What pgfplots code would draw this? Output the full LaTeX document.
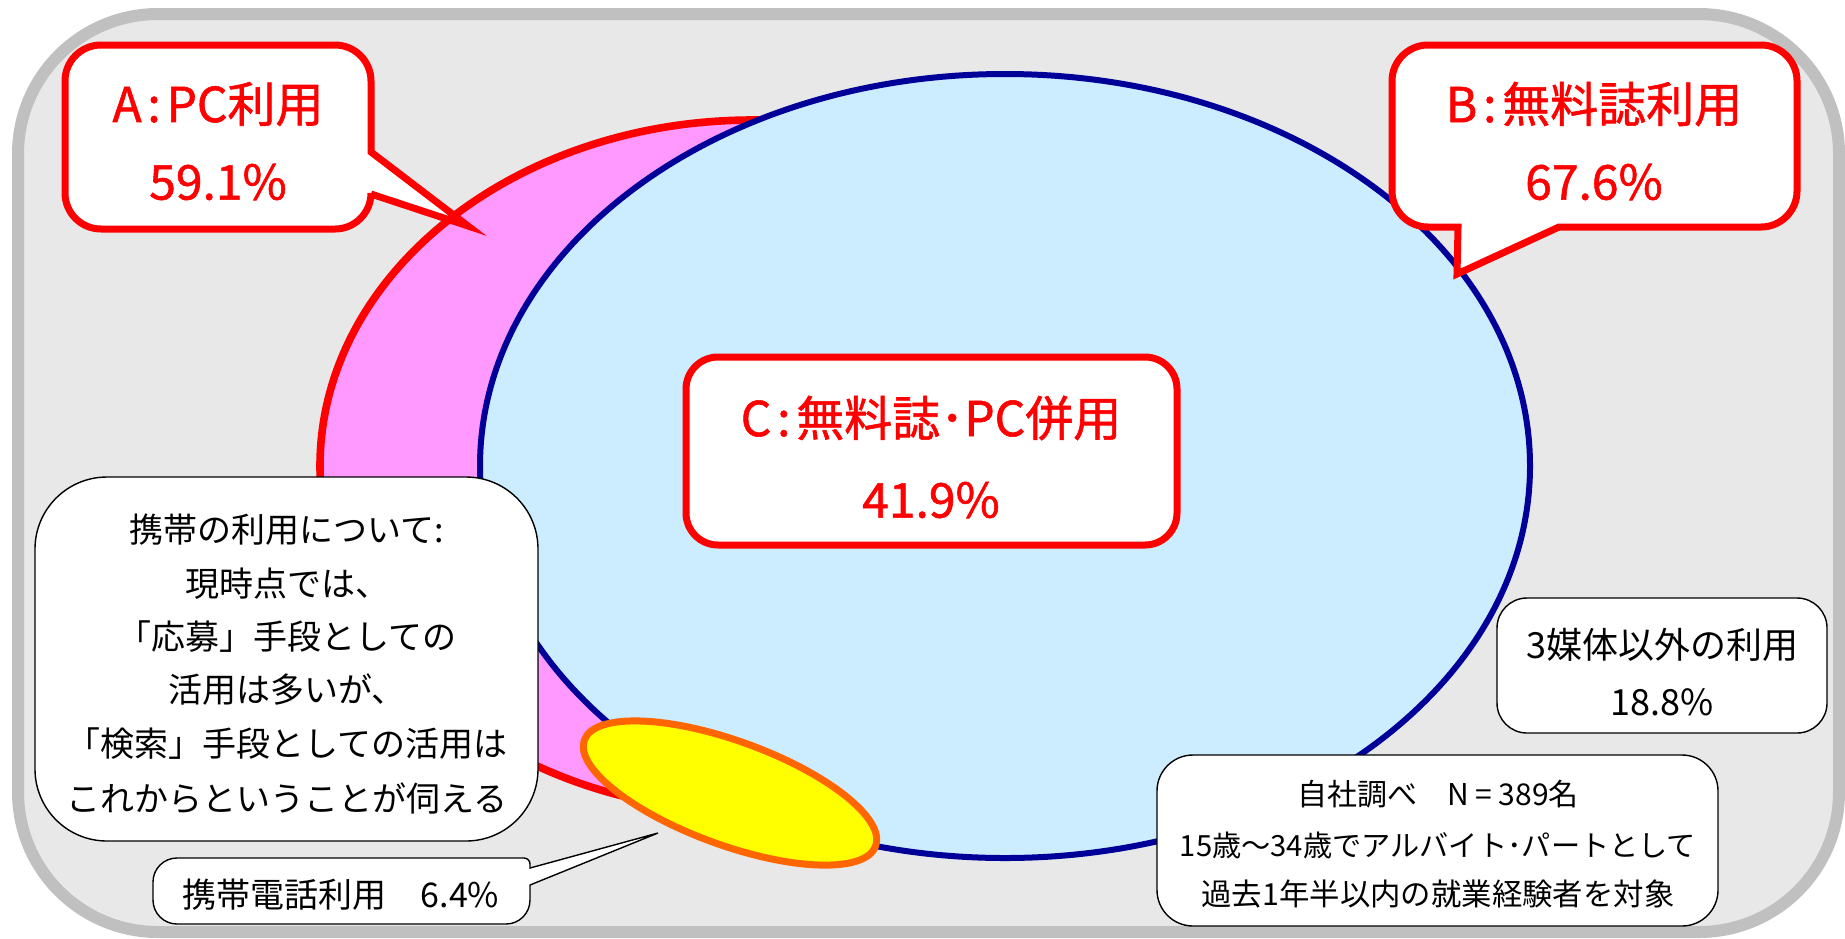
\documentclass[border=0pt]{standalone}
\usepackage{fontspec}
\setmainfont{Noto Sans CJK JP}
\newfontfamily\redf[FakeBold=1.2]{Noto Sans CJK JP}
\usepackage{pgfplots}
\pgfplotsset{compat=1.18}

\definecolor{frameg}{HTML}{C0C0C0}
\definecolor{bgg}{HTML}{E8E8E8}
\definecolor{pinkA}{HTML}{FF99FF}
\definecolor{blueB}{HTML}{CCECFF}
\definecolor{navyB}{HTML}{000099}
\definecolor{orangeP}{HTML}{FF6600}
\definecolor{yelC}{HTML}{FFFF00}
\newcommand{\fs}[1]{\fontsize{#1}{#1}\selectfont}
\newcommand{\cl}{\hspace{0.12em}:\hspace{0.12em}}

\begin{document}
\begin{tikzpicture}
\begin{axis}[
    scale only axis,
    width=922.5pt, height=469pt,
    xmin=0, xmax=1845, ymin=0, ymax=938,
    y dir=reverse,
    hide axis,
    clip=false
]
  \coordinate (bl) at (0,938);
  \coordinate (tr) at (1845,0);

  % frame
  \filldraw[draw=frameg, fill=bgg, line width=6pt, rounded corners=70pt]
    (18,14) rectangle (1839,932);

  % A, B and mobile sets
  \filldraw[fill=pinkA, draw=red, line width=3.8pt]
    (753,466) ellipse [x radius=216.5pt, y radius=173pt];
  \filldraw[fill=blueB, draw=navyB, line width=3pt]
    (1005,466) ellipse [x radius=262.5pt, y radius=196pt];
  \filldraw[fill=yelC, draw=orangeP, line width=3.5pt, rotate around={-20:(730,793)}]
    (730,793) ellipse [x radius=77.5pt, y radius=26pt];

  % callout A
  \filldraw[draw=red, fill=white, line width=3.5pt, rounded corners=18pt]
    (218,45) -- (371,45) [sharp corners] -- (371,152) -- (468,226) -- (371,194)
    [rounded corners=18pt] -- (371,229) -- (65,229) -- (65,45) -- cycle;
  \node[text=red, font=\fs{24pt}\redf] at (218,104) {A\cl PC利用};
  \node[text=red, font=\fs{24pt}\redf] at (218,182) {59.1\%};

  % callout B
  \filldraw[draw=red, fill=white, line width=3.5pt, rounded corners=18pt]
    (1600,45) -- (1797,45) -- (1797,227) [sharp corners] -- (1559,227) -- (1457,274) -- (1458,227)
    [rounded corners=18pt] -- (1392,227) -- (1392,45) -- cycle;
  \node[text=red, font=\fs{24pt}\redf] at (1594,104) {B\cl 無料誌利用};
  \node[text=red, font=\fs{24pt}\redf] at (1594,182) {67.6\%};

  % box C
  \filldraw[draw=red, fill=white, line width=3.5pt, rounded corners=16pt]
    (686,357) rectangle (1177,545);
  \node[text=red, font=\fs{24pt}\redf] at (931,418) {C\cl 無料誌･PC併用};
  \node[text=red, font=\fs{24pt}\redf] at (931,500) {41.9\%};

  % note on mobile use
  \filldraw[draw=black, fill=white, line width=0.7pt, rounded corners=36pt]
    (35,477) rectangle (538,841);
  \node[font=\fs{17pt}] at (287,530) {携帯の利用について:};
  \node[font=\fs{17pt}] at (287,584) {現時点では、};
  \node[font=\fs{17pt}] at (287,637) {「応募」手段としての};
  \node[font=\fs{17pt}] at (287,690) {活用は多いが、};
  \node[font=\fs{17pt}] at (287,744) {「検索」手段としての活用は};
  \node[font=\fs{17pt}] at (287,798) {これからということが伺える};

  % callout mobile
  \filldraw[draw=black, fill=white, line width=0.7pt]
    (300,858) [rounded corners=3pt] -- (530,858) [sharp corners] -- (530,868) -- (658,833) -- (530,885)
    [rounded corners=12pt] -- (530,924) -- (153,924) -- (153,858) -- cycle;
  \node[font=\fs{17pt}] at (341,895) {携帯電話利用\quad 6.4\%};

  % other media
  \filldraw[draw=black, fill=white, line width=0.7pt, rounded corners=15pt]
    (1497,598) rectangle (1827,733);
  \node[font=\fs{18pt}] at (1662,645) {3媒体以外の利用};
  \node[font=\fs{18pt}] at (1662,702) {18.8\%};

  % survey note
  \filldraw[draw=black, fill=white, line width=0.7pt, rounded corners=18pt]
    (1157,755) rectangle (1718,926);
  \node[font=\fs{15pt}] at (1438,794) {自社調べ\quad N = 389名};
  \node[font=\fs{14.6pt}] at (1438,845) {15歳〜34歳でアルバイト･パートとして};
  \node[font=\fs{15.2pt}] at (1438,894) {過去1年半以内の就業経験者を対象};
\end{axis}
\pgfresetboundingbox
\path (bl) rectangle (tr);
\end{tikzpicture}
\end{document}
